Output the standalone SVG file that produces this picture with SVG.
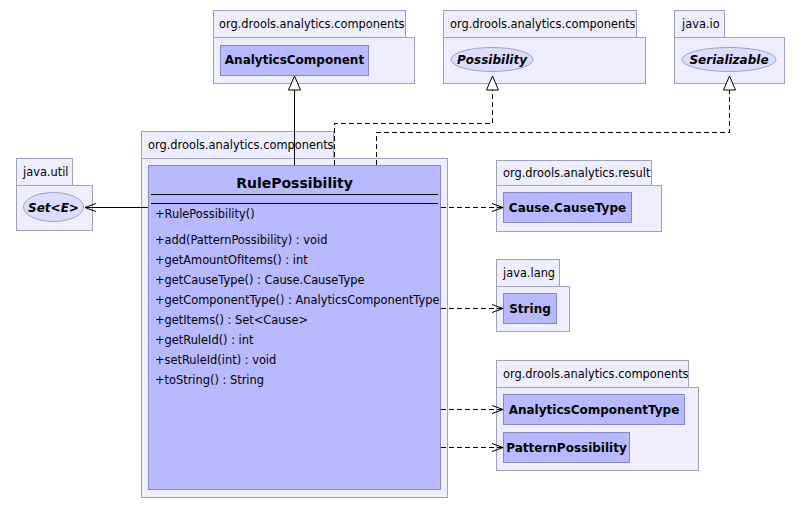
<svg xmlns="http://www.w3.org/2000/svg" width="802" height="508" viewBox="0 0 802 508">
<style>
.pkg{fill:#eeeefe;stroke:#a0a0c0;stroke-width:1}
.cls{fill:#b9b9ff;stroke:#8888b8;stroke-width:1}
.ell{fill:#dcdcff;stroke:#a0a0c0;stroke-width:1}
.pl{font-family:"DejaVu Sans",sans-serif;font-size:11.4px;fill:#000}
.cn{font-family:"DejaVu Sans",sans-serif;font-size:12px;font-weight:bold;fill:#000}
.in{font-family:"DejaVu Sans",sans-serif;font-size:12px;font-weight:bold;font-style:italic;fill:#000}
.mb{font-family:"DejaVu Sans",sans-serif;font-size:11.4px;fill:#000}
.sol{fill:none;stroke:#000;stroke-width:1}
.dash{fill:none;stroke:#000;stroke-width:1;stroke-dasharray:5,3}
</style>
<defs>
<marker id="tri" markerUnits="userSpaceOnUse" markerWidth="16" markerHeight="16" refX="15" refY="7" orient="auto">
<path d="M1,1 L15,7 L1,13 Z" fill="#fff" stroke="#000" stroke-width="1"/>
</marker>
<marker id="open" markerUnits="userSpaceOnUse" markerWidth="14" markerHeight="12" refX="12" refY="5" orient="auto">
<path d="M1,1 L12,5 L1,9" fill="none" stroke="#000" stroke-width="1"/>
</marker>
</defs>

<g id="pkg-analyticscomponent">
<rect class="pkg" x="213.5" y="10.5" width="192" height="27"/>
<rect class="pkg" x="213.5" y="37.5" width="201" height="46"/>
<text class="pl" x="219" y="28">org.drools.analytics.components</text>
<rect class="cls" x="220.5" y="45.5" width="148" height="30"/>
<text class="cn" x="294.5" y="64" text-anchor="middle">AnalyticsComponent</text>
</g>

<g id="pkg-possibility">
<rect class="pkg" x="443.5" y="10.5" width="193" height="27"/>
<rect class="pkg" x="443.5" y="37.5" width="202" height="46"/>
<text class="pl" x="450" y="28">org.drools.analytics.components</text>
<ellipse class="ell" cx="492" cy="59.5" rx="41" ry="12"/>
<text class="in" x="492" y="64" text-anchor="middle">Possibility</text>
</g>

<g id="pkg-serializable">
<rect class="pkg" x="674.5" y="10.5" width="50" height="27"/>
<rect class="pkg" x="674.5" y="37.5" width="110" height="46"/>
<text class="pl" x="682" y="28">java.io</text>
<ellipse class="ell" cx="729" cy="59.5" rx="47" ry="12"/>
<text class="in" x="729" y="64" text-anchor="middle">Serializable</text>
</g>

<g id="pkg-set">
<rect class="pkg" x="16.5" y="158.5" width="56" height="27"/>
<rect class="pkg" x="16.5" y="185.5" width="76" height="45"/>
<text class="pl" x="23" y="176">java.util</text>
<ellipse class="ell" cx="53.5" cy="207" rx="30" ry="14.5"/>
<text class="in" x="53.5" y="211.5" text-anchor="middle">Set&lt;E&gt;</text>
</g>

<g id="rulepossibility">
<rect class="pkg" x="141.5" y="131.5" width="192" height="27"/>
<rect class="pkg" x="141.5" y="158.5" width="306" height="339"/>
<text class="pl" x="148" y="149">org.drools.analytics.components</text>
<rect class="cls" x="148.5" y="165.5" width="292" height="324"/>
<text class="cn" x="294.5" y="188" text-anchor="middle" style="font-size:14px">RulePossibility</text>
<line class="sol" x1="151" y1="194.5" x2="438" y2="194.5"/>
<line class="sol" x1="151" y1="203.5" x2="438" y2="203.5"/>
<text class="mb" x="155" y="218">+RulePossibility()</text>
<text class="mb" x="155" y="244">+add(PatternPossibility) : void</text>
<text class="mb" x="155" y="264">+getAmountOfItems() : int</text>
<text class="mb" x="155" y="284">+getCauseType() : Cause.CauseType</text>
<text class="mb" x="155" y="304">+getComponentType() : AnalyticsComponentType</text>
<text class="mb" x="155" y="324">+getItems() : Set&lt;Cause&gt;</text>
<text class="mb" x="155" y="344">+getRuleId() : int</text>
<text class="mb" x="155" y="364">+setRuleId(int) : void</text>
<text class="mb" x="155" y="384">+toString() : String</text>
</g>

<g id="pkg-causetype">
<rect class="pkg" x="496.5" y="160.5" width="155" height="25"/>
<rect class="pkg" x="496.5" y="185.5" width="165" height="46"/>
<text class="pl" x="503" y="177">org.drools.analytics.result</text>
<rect class="cls" x="503.5" y="192.5" width="128" height="30"/>
<text class="cn" x="567.5" y="212" text-anchor="middle">Cause.CauseType</text>
</g>

<g id="pkg-string">
<rect class="pkg" x="496.5" y="259.5" width="63" height="27"/>
<rect class="pkg" x="496.5" y="286.5" width="73" height="45"/>
<text class="pl" x="503" y="277">java.lang</text>
<rect class="cls" x="503.5" y="293.5" width="53" height="30"/>
<text class="cn" x="530" y="313" text-anchor="middle">String</text>
</g>

<g id="pkg-components-types">
<rect class="pkg" x="496.5" y="360.5" width="192" height="27"/>
<rect class="pkg" x="496.5" y="387.5" width="202" height="83"/>
<text class="pl" x="503" y="378">org.drools.analytics.components</text>
<rect class="cls" x="503.5" y="394.5" width="181" height="30"/>
<text class="cn" x="594" y="414" text-anchor="middle">AnalyticsComponentType</text>
<rect class="cls" x="503.5" y="432.5" width="126" height="30"/>
<text class="cn" x="566.5" y="452" text-anchor="middle">PatternPossibility</text>
</g>

<g id="connectors">
<path class="sol" d="M294.5,165 L294.5,76" marker-end="url(#tri)"/>
<path class="dash" d="M334.5,165 L334.5,123.5 L492.5,123.5 L492.5,76" marker-end="url(#tri)"/>
<path class="dash" d="M376.5,165 L376.5,132.5 L729.5,132.5 L729.5,76" marker-end="url(#tri)"/>
<path class="sol" d="M148,207.5 L85,207.5" marker-end="url(#open)"/>
<path class="dash" d="M441,207.5 L503,207.5" marker-end="url(#open)"/>
<path class="dash" d="M441,308.5 L503,308.5" marker-end="url(#open)"/>
<path class="dash" d="M441,409.5 L503,409.5" marker-end="url(#open)"/>
<path class="dash" d="M441,447.5 L503,447.5" marker-end="url(#open)"/>
</g>
</svg>
